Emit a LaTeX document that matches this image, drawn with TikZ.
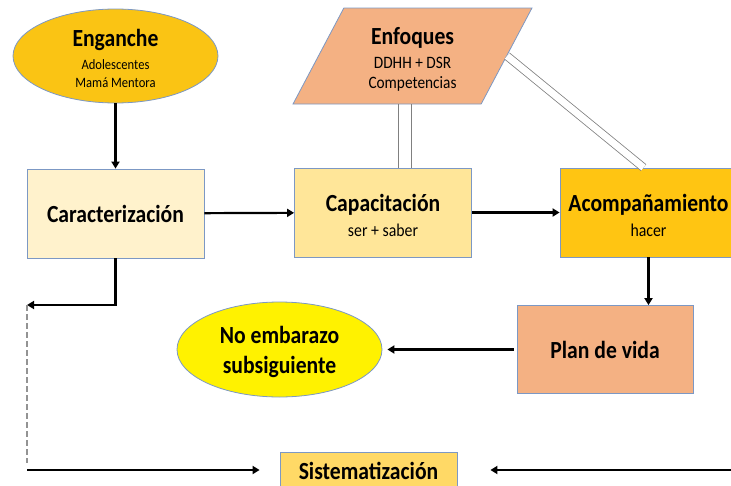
\documentclass[tikz,border=0pt]{standalone}
\usepackage{fontspec}
\setmainfont{Carlito}[FakeStretch=0.88]
\usetikzlibrary{shapes.geometric,arrows.meta,positioning,calc}

\definecolor{borde}{RGB}{124,152,196}
\definecolor{oro}{RGB}{250,196,20}
\definecolor{crema}{RGB}{255,242,204}
\definecolor{amarillo}{RGB}{255,230,153}
\definecolor{ambar}{RGB}{255,197,18}
\definecolor{salmon}{RGB}{244,177,131}
\definecolor{sistema}{RGB}{255,217,102}

\newcommand\titulo[1]{{\fontsize{24.6}{25}\selectfont\bfseries #1}}
\newcommand\alto{\rule{0pt}{23pt}}

\begin{document}
\begin{tikzpicture}[x=1pt, y=-1pt,
        caja/.style={draw=borde, line width=0.8pt, minimum width=177pt,
            minimum height=89pt, inner sep=0pt, align=center,
            font=\fontsize{18}{25}\selectfont},
        globo/.style={ellipse, draw=borde, line width=0.8pt, minimum width=205pt,
            minimum height=94pt, inner sep=0pt, align=center},
        flecha/.style={line width=2.2pt, -{Triangle[length=7pt,width=8pt]}},
        guia/.style={gray, line width=0.8pt}]
    \useasboundingbox (0,0) rectangle (731,485);
    \clip (0,0) rectangle (731,485);

    \node[globo, fill=oro, font=\fontsize{14.3}{18}\selectfont] (eng) at (115.5,56)
        {\alto\titulo{Enganche}\\[5pt]Adolescentes\\Mamá Mentora};
    \node[trapezium, trapezium left angle=65, trapezium right angle=115,
        trapezium stretches, draw=borde, line width=0.8pt, fill=salmon,
        minimum width=239pt, minimum height=96pt, inner sep=0pt, align=center,
        font=\fontsize{17.4}{20}\selectfont] (enf) at (412.5,56)
        {\alto\titulo{Enfoques}\\[4pt]DDHH + DSR\\Competencias};

    \node[caja, fill=crema] (car) at (115.5,213.5) {\titulo{Caracterización}};
    \node[caja, fill=amarillo] (cap) at (383,212.5) {\alto\titulo{Capacitación}\\ser + saber};
    \node[caja, fill=ambar] (aco) at (648.5,212.5) {\alto\titulo{Acompañamiento}\\hacer};
    \node[caja, fill=salmon, minimum width=176pt, minimum height=88pt] (plan) at (605,349.5)
        {\titulo{Plan de vida}};
    \node[globo, fill=yellow, minimum height=95pt, font=\fontsize{24.6}{30}\selectfont\bfseries]
        (noe) at (279.5,349.5) {\alto No embarazo\\subsiguiente};
    \node[caja, fill=sistema, minimum height=38pt] (sis) at (368.5,471)
        {\titulo{Sistematización}};

    \coordinate (vuelta) at (27,305);
    \coordinate (baja) at (27,463);
    \coordinate (izq) at (27,470);
    \coordinate (der) at (731,470);

    \draw[flecha] (eng) -- (car);
    \draw[flecha] (car) -- (cap);
    \draw[flecha] (cap) -- (aco);
    \draw[flecha] (aco.south) -- (aco.south |- plan.north);
    \draw[flecha, shorten <=3pt, shorten >=5pt] (plan.west) -- (noe.east);
    \draw[flecha] (car.south) |- (vuelta);
    \draw[gray!85, line width=1.3pt, dash pattern=on 6pt off 3pt] (vuelta) -- (baja);
    \draw[flecha, shorten >=20pt] (izq) -- (izq -| sis.west);
    \draw[flecha, shorten >=33pt] (der) -- (der -| sis.east);

    \draw[guia] ([xshift=-14.5pt]enf.south) -- ([xshift=-14.5pt]enf.south |- cap.north);
    \draw[guia] ([xshift=-1.5pt]enf.south) -- ([xshift=-1.5pt]enf.south |- cap.north);
    \draw[guia, double=white, double distance=7pt] (enf.east) -- ([xshift=-5pt]aco.north);
\end{tikzpicture}
\end{document}
